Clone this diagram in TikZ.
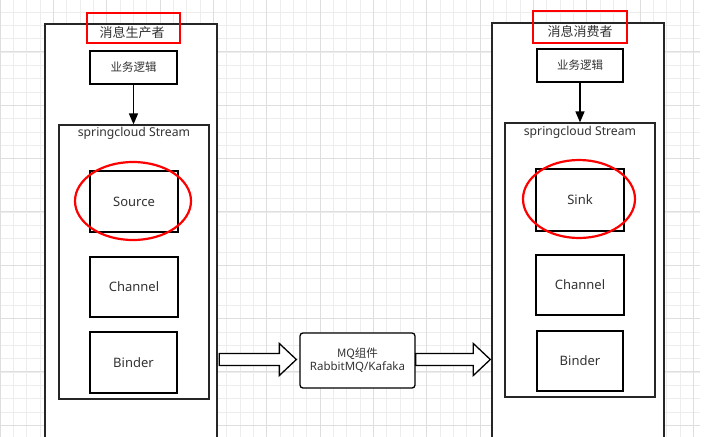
\documentclass[tikz,border=0pt]{standalone}
\usepackage{fontspec}
\setmainfont{Noto Sans}
\newfontfamily\cjk{Noto Sans CJK SC}
\usetikzlibrary{arrows.meta,calc,shapes.geometric}
\definecolor{txt}{HTML}{333333}
\definecolor{gridminor}{HTML}{EDEDED}
\definecolor{gridmajor}{HTML}{DEDEDE}
\tikzset{
  box/.style={draw=black, line width=1.5pt, fill=white, text=txt, inner sep=0pt, font=\fontsize{13}{15}\selectfont},
  outerbox/.style={draw=black!85, line width=1.4pt, fill=white, inner sep=0pt},
  streambox/.style={draw=black!85, line width=1.2pt, fill=white, inner sep=0pt},
  redrect/.style={draw=red, line width=2.6pt, inner sep=0pt},
  redell/.style={draw=red, line width=2.2pt, ellipse, inner sep=0pt},
  lbl/.style={text=txt, inner sep=0pt},
  cn/.style={text=txt, inner sep=0pt, font=\cjk\fontsize{12}{14}\selectfont},
  flow/.style={draw=black, line width=1.4pt, -{Triangle[width=9pt,length=11pt]}},
  blk/.style={draw=black, line width=1.3pt, fill=white, line join=miter},
  mqbox/.style={draw=black, line width=1.3pt, fill=white, rounded corners=3pt, inner sep=0pt, text=txt, align=center, font=\fontsize{11.5}{14}\selectfont}
}
\begin{document}
\begin{tikzpicture}[x=1pt,y=-1pt]
\useasboundingbox (0,0) rectangle (716,437);
\fill[white] (0,0) rectangle (716,437);
% grid
\foreach \i in {0,...,52} {
  \draw[gridminor, line width=0.6pt] ({\i*13.333},0) -- ({\i*13.333},437);
}
\foreach \i in {0,...,33} {
  \draw[gridminor, line width=0.6pt] (0,{\i*13.333-1.5}) -- (700,{\i*13.333-1.5});
}
\foreach \i in {0,...,13} {
  \draw[gridmajor, line width=0.7pt] ({\i*53.333},0) -- ({\i*53.333},437);
}
\foreach \i in {0,...,8} {
  \draw[gridmajor, line width=0.7pt] (0,{\i*53.333-1.5}) -- (700,{\i*53.333-1.5});
}

% ---------- producer ----------
\node[outerbox, minimum width=172pt, minimum height=421pt] (outerL) at (131,234.5) {};
\node[redrect, minimum width=93pt, minimum height=30pt] (redL) at (133.5,28) {};
\node[cn, font=\cjk\fontsize{13}{15}\selectfont] (titleL) at (132,32.5) {消息生产者};
\node[box, minimum width=87pt, minimum height=33pt, font=\cjk\fontsize{11.5}{14}\selectfont] (bizL) at (133.5,67.5) {业务逻辑};
\node[streambox, minimum width=150pt, minimum height=274pt] (streamL) at (134,262) {};
\node[lbl, font=\fontsize{12.2}{15}\selectfont] (slabL) at (134,133) {springcloud Stream};
\node[box, minimum width=88pt, minimum height=61pt] (source) at (134,201.5) {Source};
\node[redell, minimum width=116pt, minimum height=78pt] (ellL) at (133,201) {};
\node[box, minimum width=88pt, minimum height=60pt] (chanL) at (134,287) {Channel};
\node[box, minimum width=87pt, minimum height=61pt] (bindL) at (133.5,362.5) {Binder};
\draw[flow] (bizL.south) -- (bizL.south |- streamL.north);

% ---------- consumer ----------
\node[outerbox, minimum width=172pt, minimum height=422pt] (outerR) at (578,234) {};
\node[redrect, minimum width=94pt, minimum height=32pt] (redR) at (580,27) {};
\node[cn, font=\cjk\fontsize{13}{15}\selectfont] (titleR) at (580,31) {消息消费者};
\node[box, minimum width=86pt, minimum height=33pt, font=\cjk\fontsize{11.5}{14}\selectfont] (bizR) at (580,65.5) {业务逻辑};
\node[streambox, minimum width=150pt, minimum height=274pt] (streamR) at (580,260) {};
\node[lbl, font=\fontsize{12.2}{15}\selectfont] (slabR) at (580,132) {springcloud Stream};
\node[box, minimum width=88pt, minimum height=62pt] (sink) at (580,200) {Sink};
\node[redell, minimum width=112pt, minimum height=78pt] (ellR) at (579,199) {};
\node[box, minimum width=88pt, minimum height=60pt] (chanR) at (580,285) {Channel};
\node[box, minimum width=86pt, minimum height=60pt] (bindR) at (580,361) {Binder};
\draw[flow] (bizR.south) -- (bizR.south |- streamR.north);

% ---------- MQ ----------
\node[mqbox, minimum width=115pt, minimum height=55pt] (mq) at (357.5,360.5) {{\cjk MQ组件}\\[-1pt]RabbitMQ/Kafaka};

% block arrows
\coordinate (a1s) at ($(outerL.east |- mq.west)+(1.5,-1)$);
\coordinate (a1e) at ($(mq.west)+(-3,-1)$);
\coordinate (a2s) at ($(mq.east)+(0,-1)$);
\coordinate (a2e) at ($(outerR.west |- mq.east)+(-1,-1)$);
\draw[blk] let \p1=(a1s), \p2=(a1e) in
  (\x1,\y1-6pt) -- (\x2-17pt,\y1-6pt) -- (\x2-17pt,\y1-16pt) -- (\x2,\y1) -- (\x2-17pt,\y1+16pt) -- (\x2-17pt,\y1+6pt) -- (\x1,\y1+6pt) -- cycle;
\draw[blk] let \p1=(a2s), \p2=(a2e) in
  (\x1,\y1-6pt) -- (\x2-17pt,\y1-6pt) -- (\x2-17pt,\y1-16pt) -- (\x2,\y1) -- (\x2-17pt,\y1+16pt) -- (\x2-17pt,\y1+6pt) -- (\x1,\y1+6pt) -- cycle;
\end{tikzpicture}
\end{document}
